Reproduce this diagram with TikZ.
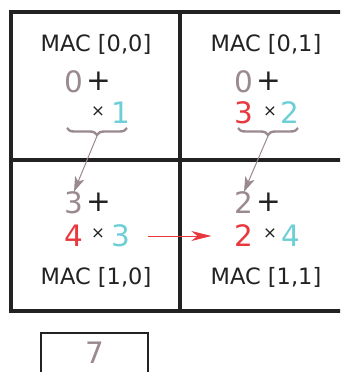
\documentclass[tikz,border=0pt]{standalone}
\usepackage{fontspec}
\setmainfont{DejaVu Sans}
\usetikzlibrary{arrows.meta,decorations.pathreplacing}
\definecolor{psumgray}{HTML}{9A8A8E}
\definecolor{wgtred}{HTML}{E8383D}
\definecolor{actcyan}{HTML}{6CCFD6}
\definecolor{inkblack}{HTML}{222222}
\tikzset{
  cell/.style={line width=3.2pt,draw=inkblack},
  maclabel/.style={inner sep=0pt,text=inkblack,font=\fontsize{22.5}{26}\selectfont},
  digit/.style={inner sep=0pt,font=\fontsize{29.5}{32}\selectfont},
  psum/.style={digit,text=psumgray},
  wgt/.style={digit,text=wgtred},
  act/.style={digit,text=actcyan},
  plus/.style={digit,text=inkblack},
  times/.style={inner sep=0pt,text=inkblack,font=\fontsize{16.5}{19}\selectfont},
  sumbrace/.style={decorate,decoration={brace,amplitude=7pt,mirror},line width=2.4pt,draw=psumgray},
  passdown/.style={-{Stealth[length=15pt,width=10pt,inset=4pt]},draw=psumgray,line width=1pt},
  passright/.style={-{Stealth[length=20pt,width=10pt,inset=6pt]},draw=wgtred,line width=1pt}
}
\begin{document}
\begin{tikzpicture}[x=1pt,y=-1pt]
\clip (0,0) rectangle (340,372);
\draw[cell] (11,12) rectangle (349,311);
\draw[cell] (180,12) -- (180,311);
\draw[cell] (11,160) -- (349,160);
\draw[line width=2pt,draw=inkblack] (41,333) rectangle (148,390);
\node[maclabel] (mac00) at (96,44) {MAC [0,0]};
\node[maclabel] (mac01) at (266,44) {MAC [0,1]};
\node[maclabel] (mac10) at (96,277) {MAC [1,0]};
\node[maclabel] (mac11) at (266,277) {MAC [1,1]};
\node[psum] (psum00) at (74,82) {0};
\node[plus] (plus00) at (99,81) {+};
\node[times] (times00) at (98,112) {×};
\node[act] (act00) at (121,113) {1};
\node[psum] (psum01) at (244,82) {0};
\node[plus] (plus01) at (269,81) {+};
\node[wgt] (wgt01) at (244,113) {3};
\node[times] (times01) at (270,112) {×};
\node[act] (act01) at (290,113) {2};
\node[psum] (psum10) at (74,203) {3};
\node[plus] (plus10) at (99,202) {+};
\node[wgt] (wgt10) at (74,236) {4};
\node[times] (times10) at (98,234) {×};
\node[act] (act10) at (121,236) {3};
\node[psum] (psum11) at (244,203) {2};
\node[plus] (plus11) at (269,202) {+};
\node[wgt] (wgt11) at (244,236) {2};
\node[times] (times11) at (270,234) {×};
\node[act] (act11) at (291,236) {4};
\node[psum] (result) at (95,353) {7};
\draw[sumbrace] (67,128) -- (127,128);
\draw[sumbrace] (238,128) -- (298,128);
\coordinate (tip00) at (97,136);
\coordinate (tip01) at (268,136);
\draw[passdown] (tip00) -- (psum10.north);
\draw[passdown] (tip01) -- (psum11.north);
\draw[passright,shorten <=17pt,shorten >=23pt] (act10.east) -- (wgt11.west);
\end{tikzpicture}
\end{document}
